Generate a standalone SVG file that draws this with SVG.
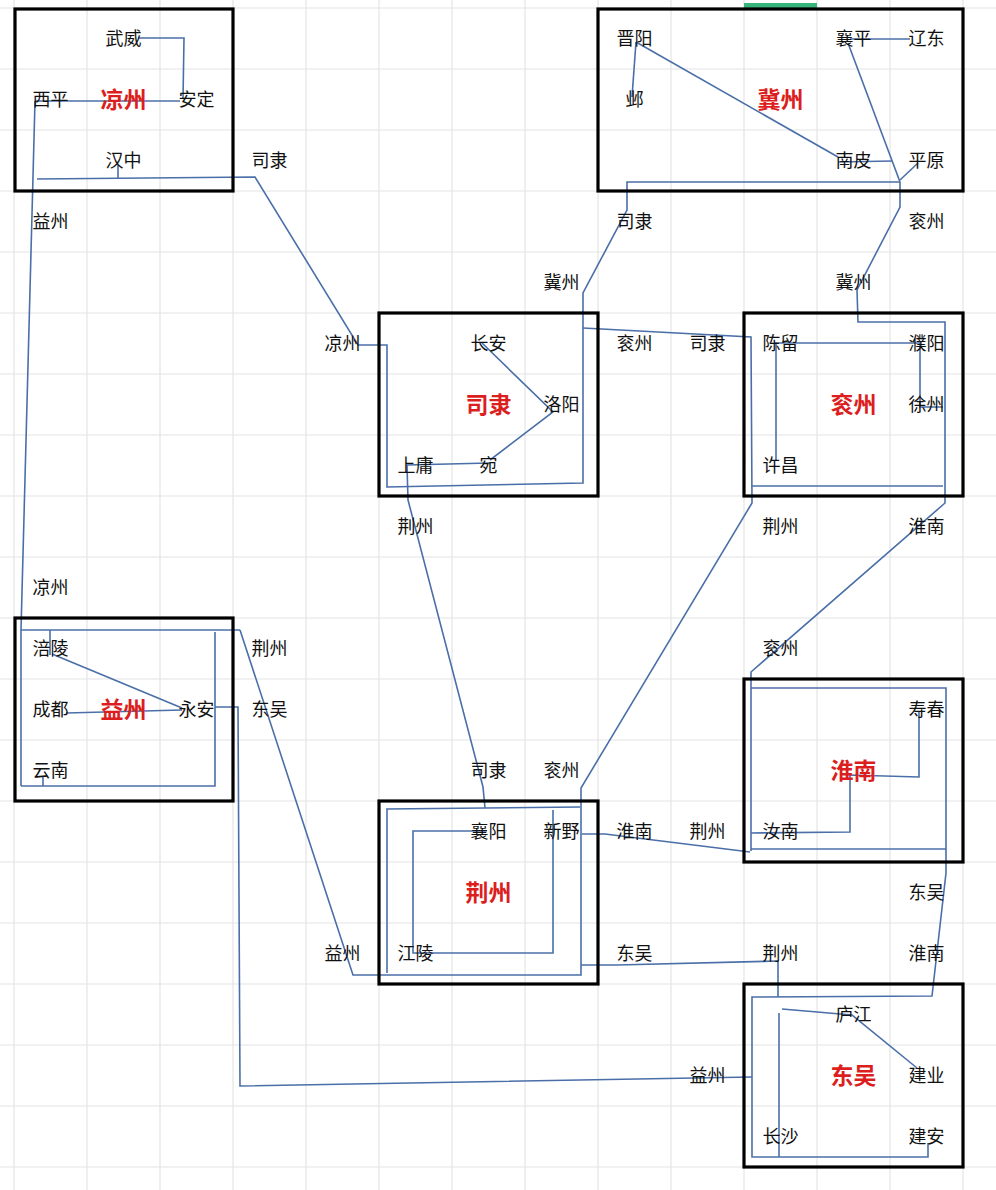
<svg xmlns="http://www.w3.org/2000/svg" width="996" height="1190" viewBox="0 0 996 1190">
<defs>
<style>
.grid{stroke:#e4e4e4;stroke-width:1.2;fill:none}
.box{fill:none;stroke:#000;stroke-width:3.2}
.c{fill:none;stroke:#4a6fa8;stroke-width:1.6;stroke-linejoin:miter}
text{font-family:"Microsoft YaHei","Noto Sans CJK SC",sans-serif;text-anchor:middle;dominant-baseline:central}
.t{font-size:18px;fill:#111}
.r{font-size:23px;fill:#dc1e1e;font-weight:bold}
</style>
</defs>
<rect x="0" y="0" width="996" height="1190" fill="#fff"/>
<g id="grid" class="grid">
<path d="M14,0V1190M87,0V1190M160,0V1190M233,0V1190M306,0V1190M379,0V1190M452,0V1190M525,0V1190M598,0V1190M671,0V1190M744,0V1190M817,0V1190M890,0V1190M963,0V1190"/>
<path d="M0,8H996M0,69H996M0,130H996M0,191H996M0,252H996M0,313H996M0,374H996M0,435H996M0,496H996M0,557H996M0,618H996M0,679H996M0,740H996M0,801H996M0,862H996M0,923H996M0,984H996M0,1045H996M0,1106H996M0,1167H996"/>
</g>
<rect x="744" y="3" width="73" height="5" fill="#38b57a"/>
<g id="connectors" class="c">
<path d="M138,38L184,38L183,99"/>
<path d="M35,101L180,101"/>
<path d="M35,101L21,630L21,786"/>
<path d="M21,630L240,630"/>
<path d="M21,786L215,786L215,632"/>
<path d="M50,630L50,655"/>
<path d="M52,654L182,708"/>
<path d="M66,713L182,710"/>
<path d="M43,786L43,777"/>
<path d="M215,707L238,707L240,1086L752,1077"/>
<path d="M240,630L353,975L581,975L581,788L752,503L751,337L583,328"/>
<path d="M751,486L943,486"/>
<path d="M118,165L118,178"/>
<path d="M37,179L255,177L358,345L387,345L387,487L583,483L583,293L627,210L627,182L900,182"/>
<path d="M636,42L632,97"/>
<path d="M636,42L838,157"/>
<path d="M838,162L892,161"/>
<path d="M850,39L910,39"/>
<path d="M848,43L900,182"/>
<path d="M900,180L918,163"/>
<path d="M900,182L900,207L857,290L858,322L945,322L945,503L751,672L751,851"/>
<path d="M751,688L946,688L946,873L932,996L752,997L752,1157L928,1157L928,1143"/>
<path d="M751,849L946,849"/>
<path d="M775,343L920,343L920,407L943,407"/>
<path d="M776,343L776,460"/>
<path d="M482,343L553,412L490,460"/>
<path d="M490,463L407,465L408,500L483,787L485,808"/>
<path d="M580,807L387,809L387,973"/>
<path d="M487,831L413,831L413,953L553,953L553,810"/>
<path d="M582,834L605,834L750,852"/>
<path d="M581,965L617,965L778,961L778,997"/>
<path d="M751,833L850,832L850,775L919,777L919,712"/>
<path d="M782,1009L852,1015L917,1068"/>
<path d="M779,1013L779,1157"/>
</g>
<g id="liangzhou">
<rect class="box" x="15" y="9" width="218" height="182"/>
<text class="t" x="123.5" y="37">武威</text>
<text class="t" x="50.5" y="98">西平</text>
<text class="r" x="123.5" y="98">凉州</text>
<text class="t" x="196.5" y="98">安定</text>
<text class="t" x="123.5" y="159">汉中</text>
</g>
<g id="jizhou">
<rect class="box" x="598" y="9" width="365" height="182"/>
<text class="t" x="634.5" y="37">晋阳</text>
<text class="t" x="853.5" y="37">襄平</text>
<text class="t" x="926.5" y="37">辽东</text>
<text class="t" x="634.5" y="98">邺</text>
<text class="r" x="780.5" y="98">冀州</text>
<text class="t" x="853.5" y="159">南皮</text>
<text class="t" x="926.5" y="159">平原</text>
</g>
<g id="sili">
<rect class="box" x="379" y="313" width="219" height="183"/>
<text class="t" x="488.5" y="342">长安</text>
<text class="r" x="488.5" y="403">司隶</text>
<text class="t" x="561.5" y="403">洛阳</text>
<text class="t" x="415.5" y="464">上庸</text>
<text class="t" x="488.5" y="464">宛</text>
</g>
<g id="yanzhou">
<rect class="box" x="744" y="313" width="219" height="183"/>
<text class="t" x="780.5" y="342">陈留</text>
<text class="t" x="926.5" y="342">濮阳</text>
<text class="r" x="853.5" y="403">衮州</text>
<text class="t" x="926.5" y="403">徐州</text>
<text class="t" x="780.5" y="464">许昌</text>
</g>
<g id="yizhou">
<rect class="box" x="15" y="618" width="218" height="183"/>
<text class="t" x="50.5" y="647">涪陵</text>
<text class="t" x="50.5" y="708">成都</text>
<text class="r" x="123.5" y="708">益州</text>
<text class="t" x="196.5" y="708">永安</text>
<text class="t" x="50.5" y="769">云南</text>
</g>
<g id="jingzhou">
<rect class="box" x="379" y="801" width="219" height="183"/>
<text class="t" x="488.5" y="830">襄阳</text>
<text class="t" x="561.5" y="830">新野</text>
<text class="r" x="488.5" y="891">荆州</text>
<text class="t" x="415.5" y="952">江陵</text>
</g>
<g id="huainan">
<rect class="box" x="744" y="679" width="219" height="183"/>
<text class="t" x="926.5" y="708">寿春</text>
<text class="r" x="853.5" y="769">淮南</text>
<text class="t" x="780.5" y="830">汝南</text>
</g>
<g id="dongwu">
<rect class="box" x="744" y="984" width="219" height="183"/>
<text class="t" x="853.5" y="1013">庐江</text>
<text class="r" x="853.5" y="1074">东吴</text>
<text class="t" x="926.5" y="1074">建业</text>
<text class="t" x="780.5" y="1135">长沙</text>
<text class="t" x="926.5" y="1135">建安</text>
</g>
<g id="labels">
<text class="t" x="269.5" y="159">司隶</text>
<text class="t" x="50.5" y="220">益州</text>
<text class="t" x="634.5" y="220">司隶</text>
<text class="t" x="926.5" y="220">衮州</text>
<text class="t" x="561.5" y="281">冀州</text>
<text class="t" x="853.5" y="281">冀州</text>
<text class="t" x="342.5" y="342">凉州</text>
<text class="t" x="634.5" y="342">衮州</text>
<text class="t" x="707.5" y="342">司隶</text>
<text class="t" x="415.5" y="525">荆州</text>
<text class="t" x="780.5" y="525">荆州</text>
<text class="t" x="926.5" y="525">淮南</text>
<text class="t" x="50.5" y="586">凉州</text>
<text class="t" x="269.5" y="647">荆州</text>
<text class="t" x="780.5" y="647">衮州</text>
<text class="t" x="269.5" y="708">东吴</text>
<text class="t" x="488.5" y="769">司隶</text>
<text class="t" x="561.5" y="769">衮州</text>
<text class="t" x="634.5" y="830">淮南</text>
<text class="t" x="707.5" y="830">荆州</text>
<text class="t" x="926.5" y="891">东吴</text>
<text class="t" x="342.5" y="952">益州</text>
<text class="t" x="634.5" y="952">东吴</text>
<text class="t" x="780.5" y="952">荆州</text>
<text class="t" x="926.5" y="952">淮南</text>
<text class="t" x="707.5" y="1074">益州</text>
</g>
</svg>
